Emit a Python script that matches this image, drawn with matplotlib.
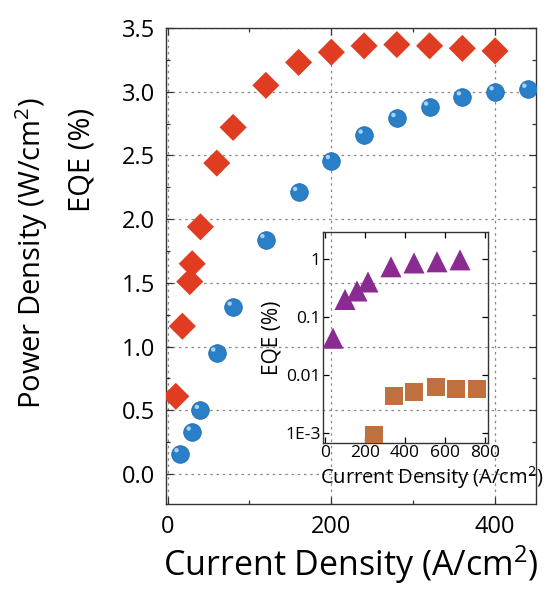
import matplotlib
matplotlib.use("Agg")
import matplotlib.pyplot as plt
from matplotlib.ticker import MultipleLocator, NullLocator, FixedLocator
from matplotlib.transforms import offset_copy

plt.rcParams['font.family'] = ['Open Sans', 'DejaVu Sans']
plt.rcParams['mathtext.fontset'] = 'custom'
plt.rcParams['mathtext.rm'] = 'Open Sans'

# Main panel data
pd_x = [15, 30, 40, 60, 80, 120, 160, 200, 240, 280, 320, 360, 400, 440]
pd_y = [0.16, 0.33, 0.50, 0.95, 1.31, 1.84, 2.21, 2.46, 2.66, 2.79, 2.88, 2.96, 3.00, 3.02]
eqe_x = [10, 18, 27, 30, 40, 60, 80, 120, 160, 200, 240, 280, 320, 360, 400]
eqe_y = [0.61, 1.16, 1.51, 1.65, 1.94, 2.44, 2.72, 3.05, 3.23, 3.31, 3.36, 3.37, 3.36, 3.34, 3.32]

# Inset data
tri_x = [40, 100, 160, 215, 330, 445, 560, 675]
tri_y = [0.043, 0.20, 0.28, 0.40, 0.73, 0.85, 0.89, 0.96]
sq_x = [245, 345, 445, 555, 655, 760]
sq_y = [0.00093, 0.0044, 0.0051, 0.0062, 0.0057, 0.0057]

main_xticks = [0, 200, 400]
main_yticks = [0.0, 0.5, 1.0, 1.5, 2.0, 2.5, 3.0, 3.5]
inset_xticks = [0, 200, 400, 600, 800]
inset_yticks = [1e-3, 1e-2, 1e-1, 1]
inset_yticklabels = ['1E-3', '0.01', '0.1', '1']

fig = plt.figure(figsize=(5.51, 5.99), dpi=100)
ax = fig.add_axes([166/551, 1 - 504/599, (536-166)/551, (504-28)/599])

ax.scatter(eqe_x, eqe_y, marker='D', s=190, color='#E03C22', edgecolors='none', zorder=3)
ax.scatter(pd_x, pd_y, marker='o', s=160, color='#2A80C8', edgecolors='#1E6AAE', linewidths=0.6, zorder=3)
hl = offset_copy(ax.transData, fig=fig, x=-2.5, y=2.5, units='points')
ax.scatter(pd_x, pd_y, marker='o', s=10, color='#B8DBF5', edgecolors='none', zorder=4,
           transform=hl, alpha=0.9)

ax.set_xlim(-2, 450)
ax.set_ylim(-0.235, 3.5)
ax.set_xticks(main_xticks)
ax.set_yticks(main_yticks)
ax.set_yticklabels([f'{v:.1f}' for v in main_yticks])
ax.xaxis.set_minor_locator(MultipleLocator(100))
ax.yaxis.set_minor_locator(MultipleLocator(0.25))
ax.tick_params(which='both', direction='in', top=True, right=True, width=0.9, color='#333333')
ax.tick_params(which='major', length=5, labelsize=17, pad=8)
ax.tick_params(which='minor', length=3)
ax.grid(True, which='major', linestyle=(0, (2, 3)), color='#888888', linewidth=0.9, zorder=0)
ax.set_axisbelow(True)
for s in ax.spines.values():
    s.set_linewidth(1.0)
    s.set_color('#333333')

ax.set_xlabel('Current Density (A/cm$^2$)', fontsize=24.5, labelpad=3)
fig.text(32/551, 1 - 253/599, 'Power Density (W/cm$^2$)', rotation=90, fontsize=21,
         ha='center', va='center')
fig.text(82/551, 1 - 160/599, 'EQE (%)', rotation=90, fontsize=21, ha='center', va='center')

# Inset
ins = fig.add_axes([323/551, 1 - 443/599, (488-323)/551, (443-232)/599])
ins.set_facecolor('none')
ins.scatter(tri_x, tri_y, marker='^', s=230, color='#8A2B92', edgecolors='none', zorder=3)
ins.scatter(sq_x, sq_y, marker='s', s=170, color='#C0703F', edgecolors='none', zorder=3, clip_on=True)
ins.set_yscale('log')
ins.set_xlim(-10, 815)
ins.set_ylim(10**-3.17, 2.9)
ins.xaxis.set_major_locator(FixedLocator(inset_xticks))
ins.yaxis.set_major_locator(FixedLocator(inset_yticks))
ins.set_yticklabels(inset_yticklabels)
ins.yaxis.set_minor_locator(NullLocator())
ins.tick_params(which='both', direction='in', top=True, right=True, width=0.9, length=4,
                labelsize=12.5, pad=1.5)
for s in ins.spines.values():
    s.set_linewidth(1.0)
    s.set_color('#333333')
ins.set_xlabel('Current Density (A/cm$^2$)', fontsize=14.5)
ins.xaxis.set_label_coords(0.66, -0.1)
ins.set_ylabel('EQE (%)', fontsize=15, labelpad=2)

fig.savefig('out.png', dpi=100)
